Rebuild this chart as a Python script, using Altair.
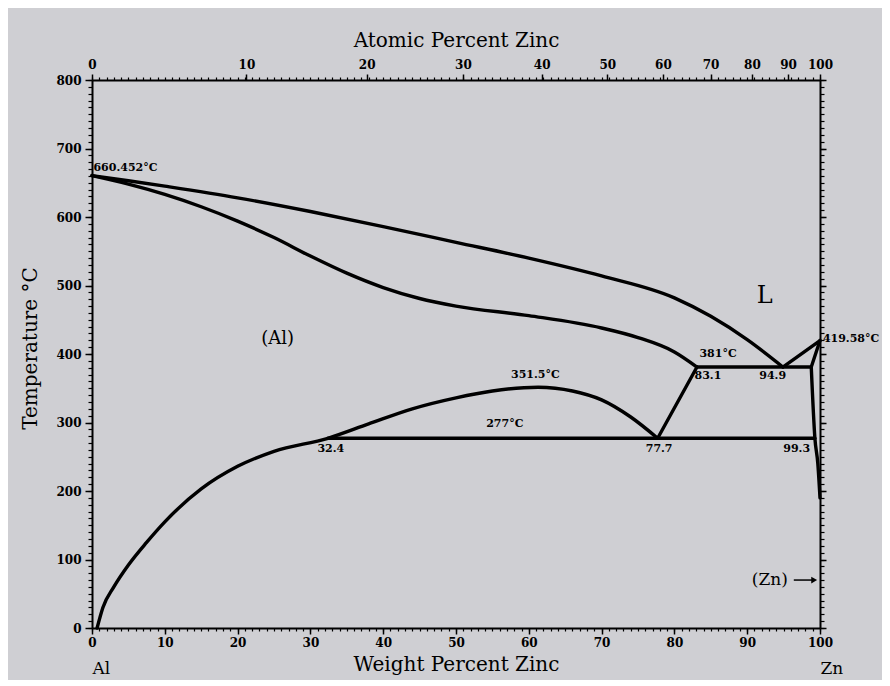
import altair as alt
import pandas as pd

# ---------------- data (wt% Zn, temperature in °C) ----------------
liq_al_wt = [0, 5, 10, 20, 30, 40, 50, 60, 70, 80, 85, 90, 94.9]
liq_al_T = [660.452, 653, 645, 628, 608, 586, 563, 540, 514, 482, 455, 421, 381]

sol_al_wt = [0, 5, 10, 15, 20, 25, 30, 35, 40, 45, 50, 60, 70, 75, 80, 83.1]
sol_al_T = [660.452, 648, 633, 615, 594, 570, 543, 518, 497, 481, 470, 456, 438, 424, 403, 381]

solvus_wt = [0.7, 1.5, 3, 5, 7.5, 10, 15, 20, 25, 32.4, 38, 44, 50, 55, 61.3, 66, 70, 74, 77.7]
solvus_T = [0, 30, 60, 92, 125, 155, 203, 236, 258, 277, 298, 320, 336, 346, 351.5, 346, 333, 308, 277]

eutectoid_wt = [77.7, 83.1]
eutectoid_T = [277, 381]

eutectic_wt = [83.1, 98.8]
eutectic_T = [381, 381]

monotectoid_wt = [32.4, 99.3]
monotectoid_T = [277, 277]

liq_zn_wt = [94.9, 100]
liq_zn_T = [381, 419.58]

sol_zn_wt = [98.8, 100]
sol_zn_T = [381, 419.58]

solvus_zn_wt = [98.8, 99.3, 99.7, 100]
solvus_zn_T = [381, 277, 240, 190]

arrow_wt = [96.4, 99.2]
arrow_T = [70, 70]

# annotations
ann_text = ["381°C", "83.1", "94.9", "351.5°C", "277°C", "32.4", "77.7", "99.3"]
ann_wt = [86.0, 84.6, 93.5, 60.9, 56.7, 32.8, 77.9, 96.8]
ann_T = [400, 368, 368, 369, 298, 261, 261, 261]

left_text = ["660.452°C", "419.58°C"]
left_wt = [0.2, 100.4]
left_T = [672, 422]

phase_text = ["(Al)", "L", "(Zn)"]
phase_wt = [25.5, 92.4, 93.1]
phase_T = [422, 485, 70]
phase_size = [18, 24, 17]

# atomic percent ticks (top axis), placed on the weight-percent scale
atomic_pct = list(range(0, 101, 10))
M_ZN, M_AL = 65.38, 26.98
atomic_pos = [100 * a * M_ZN / (a * M_ZN + (100 - a) * M_AL) for a in atomic_pct]

curves = [
    ("liq_al", liq_al_wt, liq_al_T),
    ("sol_al", sol_al_wt, sol_al_T),
    ("solvus", solvus_wt, solvus_T),
    ("solvus_zn", solvus_zn_wt, solvus_zn_T),
]
straights = [
    ("eutectoid", eutectoid_wt, eutectoid_T),
    ("eutectic", eutectic_wt, eutectic_T),
    ("monotectoid", monotectoid_wt, monotectoid_T),
    ("liq_zn", liq_zn_wt, liq_zn_T),
    ("sol_zn", sol_zn_wt, sol_zn_T),
]


def to_df(segs):
    rows = []
    for name, xs_, ys_ in segs:
        for i, (x, y) in enumerate(zip(xs_, ys_)):
            rows.append({"seg": name, "i": i, "wt": x, "T": y})
    return pd.DataFrame(rows)


df_curves = to_df(curves)
df_straight = to_df(straights)

arrow_df = pd.DataFrame({"wt": arrow_wt, "T": arrow_T})
head_df = pd.DataFrame({"wt": [arrow_wt[-1]], "T": [arrow_T[-1]]})
ann_df = pd.DataFrame({"t": ann_text, "wt": ann_wt, "T": ann_T})
left_df = pd.DataFrame({"t": left_text, "wt": left_wt, "T": left_T})
phase_df = pd.DataFrame({"t": phase_text, "wt": phase_wt, "T": phase_T, "s": phase_size})

FONT = "DejaVu Serif"
xs = alt.Scale(domain=[0, 100], nice=False, zero=False)
ys = alt.Scale(domain=[0, 800], nice=False, zero=False)

common_axis = dict(grid=False, labelFont=FONT, titleFont=FONT, domainColor="black",
                   tickColor="black", labelColor="black", titleColor="black",
                   labelOverlap=False, labelBound=False, labelFlush=False)

# main layer: curves + bottom/left labelled axes
lines = alt.Chart(df_curves).mark_line(color="black", strokeWidth=3.4, strokeCap="round",
                                       strokeJoin="round", interpolate="monotone").encode(
    x=alt.X("wt:Q", scale=xs, axis=alt.Axis(
        orient="bottom", values=list(range(0, 101, 10)), format="d",
        title="Weight Percent Zinc", titleFontSize=20, titleFontWeight="normal",
        titleX=364, titleY=36, titleBaseline="middle",
        labelFontSize=12, labelFontWeight="bold", labelPadding=3,
        tickSize=6, tickWidth=1.5, domainWidth=2, **common_axis)),
    y=alt.Y("T:Q", scale=ys, axis=alt.Axis(
        orient="left", values=list(range(0, 801, 100)), format="d",
        title="Temperature °C", titleFontSize=20, titleFontWeight="normal",
        titleAngle=-90, titleX=-62, titleY=268, titleAlign="center", titleBaseline="middle",
        labelFontSize=12, labelFontWeight="bold", labelPadding=4,
        tickSize=7, tickWidth=1.5, domainWidth=2, **common_axis)),
    detail="seg:N", order="i:Q",
)

straight = alt.Chart(df_straight).mark_line(color="black", strokeWidth=3.4, strokeCap="round",
                                            strokeJoin="round").encode(
    x=alt.X("wt:Q", scale=xs, axis=None), y=alt.Y("T:Q", scale=ys, axis=None),
    detail="seg:N", order="i:Q",
)

# minor ticks bottom / left
minor1 = alt.Chart(df_curves).mark_point(opacity=0).encode(
    x=alt.X("wt:Q", scale=xs, axis=alt.Axis(
        orient="bottom", values=list(range(0, 101)), labels=False, title=None,
        tickSize=3, tickWidth=1.2, domain=False, **common_axis)),
    y=alt.Y("T:Q", scale=ys, axis=alt.Axis(
        orient="left", values=list(range(0, 801, 10)), labels=False, title=None,
        tickSize=4, tickWidth=1.2, domain=False, **common_axis)),
)

# top atomic axis + right minor ticks
top_major = alt.Chart(df_curves).mark_point(opacity=0).encode(
    x=alt.X("wt:Q", scale=xs, axis=alt.Axis(
        orient="top", values=atomic_pos,
        labelExpr="format(round(100*(datum.value/65.38)/(datum.value/65.38+(100-datum.value)/26.98)), 'd')",
        title="Atomic Percent Zinc", titleFontSize=20, titleFontWeight="normal",
        titleX=364, titleY=-40, titleBaseline="middle",
        labelFontSize=12, labelFontWeight="bold", labelPadding=3,
        tickSize=6, tickWidth=1.5, domainWidth=2, **common_axis)),
    y=alt.Y("T:Q", scale=ys, axis=alt.Axis(
        orient="right", values=list(range(0, 801, 10)), labels=False, title=None,
        tickSize=4, tickWidth=1.2, domainWidth=2, **common_axis)),
)

# top minor ticks + right major ticks
top_minor = alt.Chart(df_curves).mark_point(opacity=0).encode(
    x=alt.X("wt:Q", scale=xs, axis=alt.Axis(
        orient="top", values=list(range(0, 101)), labels=False, title=None,
        tickSize=3, tickWidth=1.2, domain=False, **common_axis)),
    y=alt.Y("T:Q", scale=ys, axis=alt.Axis(
        orient="right", values=list(range(0, 801, 100)), labels=False, title=None,
        tickSize=6, tickWidth=1.5, domain=False, **common_axis)),
)

# Al / Zn end labels below the bottom axis
ends = alt.Chart(df_curves).mark_point(opacity=0).encode(
    x=alt.X("wt:Q", scale=xs, axis=alt.Axis(
        orient="bottom", values=[0, 100],
        labelExpr="datum.value == 0 ? 'Al' : 'Zn'", title=None,
        labelFontSize=17, labelFontWeight="normal", labelAlign="left",
        labelBaseline="middle", labelPadding=40, tickSize=0, domain=False,
        **common_axis)),
    y=alt.Y("T:Q", scale=ys, axis=None),
)

ann = alt.Chart(ann_df).mark_text(font=FONT, fontSize=11, fontWeight="bold",
                                  color="black", baseline="middle").encode(
    x=alt.X("wt:Q", scale=xs, axis=None), y=alt.Y("T:Q", scale=ys, axis=None), text="t:N")

left_ann = alt.Chart(left_df).mark_text(font=FONT, fontSize=11, fontWeight="bold",
                                        color="black", baseline="middle", align="left").encode(
    x=alt.X("wt:Q", scale=xs, axis=None), y=alt.Y("T:Q", scale=ys, axis=None), text="t:N")

phases = alt.Chart(phase_df).mark_text(font=FONT, color="black", baseline="middle").encode(
    x=alt.X("wt:Q", scale=xs, axis=None), y=alt.Y("T:Q", scale=ys, axis=None),
    text="t:N", size=alt.Size("s:Q", scale=None, legend=None))

arrow = alt.Chart(arrow_df).mark_line(color="black", strokeWidth=1.5).encode(
    x=alt.X("wt:Q", scale=xs, axis=None), y=alt.Y("T:Q", scale=ys, axis=None))
head = alt.Chart(head_df).mark_point(shape="triangle-right", filled=True, color="black",
                                     size=45, opacity=1).encode(
    x=alt.X("wt:Q", scale=xs, axis=None), y=alt.Y("T:Q", scale=ys, axis=None))

chart = alt.layer(lines, straight, minor1, top_major, top_minor, ends, ann, left_ann, phases,
                  arrow, head).resolve_axis(x="independent", y="independent").properties(
    width=728, height=548,
    padding={"left": 84, "top": 72, "right": 62, "bottom": 52},
    autosize=alt.AutoSizeParams(type="none"),
    background="#cfcfd3",
).configure_view(stroke=None)

chart.save("out.html", embed_options={"renderer": "svg", "actions": False})
